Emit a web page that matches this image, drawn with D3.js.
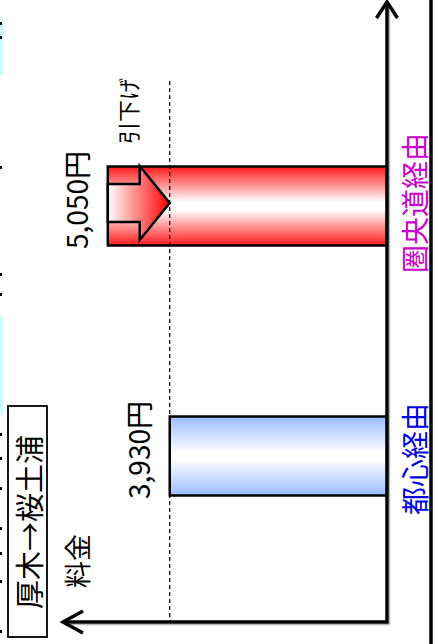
<!DOCTYPE html>
<html>
<head>
<meta charset="utf-8">
<script src="https://cdn.jsdelivr.net/npm/d3@7"></script>
<style>
body { margin: 0; background: #fff; }
svg { display: block; font-family: "Noto Sans CJK JP", "Noto Sans", sans-serif; }
</style>
</head>
<body>
<svg id="chart" width="436" height="644"></svg>
<script>
var categories = ['圏央道経由', '都心経由'];
var values = [5050, 3930];
var valueLabels = ['5,050円', '3,930円'];
var labelColors = ['#cc00cc', '#0000e6'];
var barColors = ['#ff1a1a', '#99bbff'];
var routeTitle = '厚木→桜土浦';
var axisTitle = '料金';
var cutTitle = '引下げ';

var svg = d3.select('#chart');
var defs = svg.append('defs');

var x = d3.scaleLinear().domain([0, 7000]).range([387, 0]);
var y = d3.scalePoint().domain(categories).range([206, 456]);
var barH = 79;
var axisY = 622;

// vertical gradients for bars
categories.forEach(function (c, i) {
	var g = defs.append('linearGradient')
		.attr('id', 'bar' + i)
		.attr('x1', 0).attr('y1', 0).attr('x2', 0).attr('y2', 1);
	g.append('stop').attr('offset', '0%').attr('stop-color', barColors[i]);
	g.append('stop').attr('offset', '45%').attr('stop-color', '#fff');
	g.append('stop').attr('offset', '55%').attr('stop-color', '#fff');
	g.append('stop').attr('offset', '100%').attr('stop-color', barColors[i]);
});

var ag = defs.append('linearGradient')
	.attr('id', 'arrowGrad')
	.attr('x1', 0).attr('y1', 0).attr('x2', 1).attr('y2', 0);
ag.append('stop').attr('offset', '0%').attr('stop-color', '#fff');
ag.append('stop').attr('offset', '100%').attr('stop-color', '#ff0000');

// clipped remnants at the left edge
svg.append('rect').attr('x', 0).attr('y', 20).attr('width', 3).attr('height', 55).attr('fill', '#ccffff');
svg.append('rect').attr('x', 0).attr('y', 315).attr('width', 3).attr('height', 100).attr('fill', '#ccffff');
[22, 36, 166, 273, 293, 433, 457, 487, 527, 552, 580, 630].forEach(function (m) {
	svg.append('rect').attr('x', 0).attr('y', m).attr('width', 2).attr('height', 3).attr('fill', '#000');
});

// right border
svg.append('line')
	.attr('x1', 431).attr('x2', 431).attr('y1', 0).attr('y2', 644)
	.attr('stroke', '#000').attr('stroke-width', 3.5);

// bars
svg.selectAll('rect.bar')
	.data(values)
	.enter()
	.append('rect')
	.attr('class', 'bar')
	.attr('x', function (d) { return x(d); })
	.attr('y', function (d, i) { return y(categories[i]) - barH / 2; })
	.attr('width', function (d) { return x(0) - x(d); })
	.attr('height', barH)
	.attr('fill', function (d, i) { return 'url(#bar' + i + ')'; })
	.attr('stroke', '#000')
	.attr('stroke-width', 2.5);

// reduction arrow
var ax0 = x(values[0]);
var ax1 = x(values[1]);
var ac = y(categories[0]) - 3;
var headLen = 30;
var arrowPts = [
	[ax0, ac - 19], [ax1 - headLen, ac - 19], [ax1 - headLen, ac - 37],
	[ax1, ac], [ax1 - headLen, ac + 37], [ax1 - headLen, ac + 19], [ax0, ac + 19]
];
svg.append('path')
	.attr('d', d3.line()(arrowPts) + 'Z')
	.attr('fill', 'url(#arrowGrad)')
	.attr('stroke', '#000')
	.attr('stroke-width', 2.5)
	.attr('stroke-linejoin', 'miter');

// dashed reference line
svg.append('line')
	.attr('x1', ax1).attr('x2', ax1).attr('y1', 81).attr('y2', axisY)
	.attr('stroke', '#000').attr('stroke-width', 1.2)
	.attr('stroke-dasharray', '4,3');

// axes
svg.append('line')
	.attr('x1', x(0) + 2.5).attr('x2', x(0) + 2.5).attr('y1', 10).attr('y2', axisY + 2.5)
	.attr('stroke', '#bbb').attr('stroke-width', 1.5);
svg.append('line')
	.attr('x1', 70).attr('x2', x(0) + 2.5).attr('y1', axisY + 2.5).attr('y2', axisY + 2.5)
	.attr('stroke', '#bbb').attr('stroke-width', 1.5);
svg.append('path')
	.attr('d', 'M' + x(0) + ',2V' + axisY + 'H63')
	.attr('fill', 'none').attr('stroke', '#000').attr('stroke-width', 3.5);
svg.append('path')
	.attr('d', 'M' + (x(0) - 10.5) + ',18L' + x(0) + ',2L' + (x(0) + 10.5) + ',18')
	.attr('fill', 'none').attr('stroke', '#000').attr('stroke-width', 3.5);
svg.append('path')
	.attr('d', 'M83,611L63,' + axisY + 'L83,633')
	.attr('fill', 'none').attr('stroke', '#000').attr('stroke-width', 3.5);

function vtext(tx, ty, str, size, color) {
	return svg.append('text')
		.attr('transform', 'translate(' + tx + ',' + ty + ') rotate(-90)')
		.attr('text-anchor', 'middle')
		.attr('dominant-baseline', 'central')
		.attr('font-size', size)
		.attr('fill', color || '#000')
		.text(str);
}

// value labels
values.forEach(function (v, i) {
	vtext(x(v) - 32, y(categories[i]) - 6, valueLabels[i], 28);
});

// category labels
categories.forEach(function (c, i) {
	vtext(414, y(c) - 3 + i * 6, c, 28, labelColors[i]);
});

vtext((ax0 + ax1) / 2 - 12, 111, cutTitle, 22);
vtext(76, 561, axisTitle, 27);

// route title box
svg.append('rect')
	.attr('x', 8).attr('y', 406).attr('width', 39).attr('height', 231)
	.attr('fill', '#fff').attr('stroke', '#000').attr('stroke-width', 1.8);
vtext(28, 522, routeTitle, 29);
</script>
</body>
</html>
